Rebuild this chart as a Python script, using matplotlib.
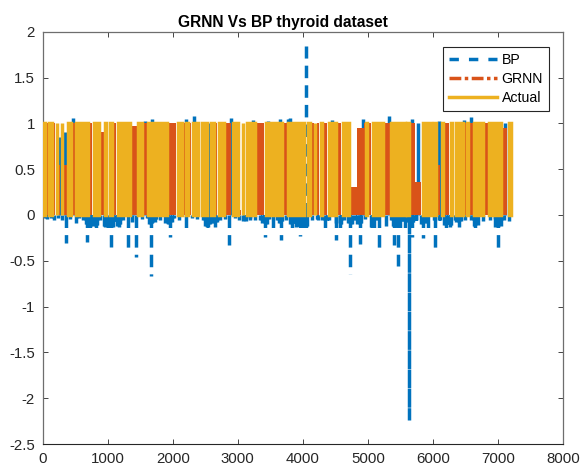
import matplotlib
matplotlib.use("Agg")
import matplotlib.pyplot as plt
from matplotlib.lines import Line2D

plt.rcParams['font.family'] = ['Liberation Sans', 'DejaVu Sans']
plt.rcParams['axes.unicode_minus'] = False

# BP spikes (index, peak value)
bp_x = [15, 60, 120, 180, 240, 300, 352, 420, 505, 560, 620, 684, 750, 816, 880, 950, 1056, 1110, 1168,
        1240, 1316, 1380, 1434, 1520, 1600, 1664, 1740, 1810, 1890, 1950, 2020, 2100, 2206, 2290, 2380,
        2470, 2538, 2600, 2655, 2730, 2800, 2859, 2950, 3020, 3099, 3180, 3260, 3340, 3415, 3480, 3543,
        3600, 3660, 3740, 3838, 3900, 3956, 4042, 4145, 4220, 4339, 4400, 4512, 4573, 4640, 4721, 4800,
        4885, 4960, 5063, 5120, 5165, 5278, 5350, 5405, 5456, 5510, 5564, 5676, 5740,
        5855, 5931, 6033, 6110, 6197, 6263, 6340, 6406, 6500, 6580, 6646, 6774, 6870, 6950, 7003, 7090, 7167,
        4051]
bp_y = [-0.03, -0.04, -0.03, -0.05, -0.03, -0.06, -0.31, -0.04, -0.09, -0.03, -0.05, -0.29, -0.11, -0.19,
        -0.05, -0.12, -0.35, -0.07, -0.13, -0.05, -0.40, -0.08, -0.46, -0.04, -0.03, -0.67, -0.04, -0.05,
        -0.06, -0.24, -0.03, -0.05, -0.17, -0.03, -0.04, -0.05, -0.13, -0.04, -0.13, -0.05, -0.04, -0.33,
        -0.03, -0.05, -0.06, -0.03, -0.05, -0.06, -0.24, -0.04, -0.20, -0.05, -0.27, -0.05, -0.20, -0.07,
        -0.23, -0.21, -0.05, -0.04, -0.14, -0.05, -0.27, -0.19, -0.05, -0.65, -0.06, -0.32, -0.04, -0.20,
        -0.06, -0.38, -0.12, -0.05, -0.33, -0.56, -0.07, -0.21, -0.24, -0.06,
        -0.25, -0.18, -0.39, -0.05, -0.16, -0.13, -0.05, -0.13, -0.05, -0.06, -0.15, -0.07, -0.05, -0.04, -0.39, -0.05, -0.07,
        1.84]

# short BP strokes that crowd just under the baseline
bp_low_x = [660, 690, 720, 780, 840, 960, 1000, 1030, 1075, 1150, 1190, 1630, 1680, 1720, 1880, 1930, 1990, 2495,
            2520, 2570, 2625, 2680, 3080, 3130, 3190, 3365, 3400, 3445, 3640, 3680, 3800, 3855, 3900, 3940, 4000,
            4060, 4230, 4290, 4370, 4510, 4590, 4690, 4760, 4840, 4900, 5045, 5100, 5380, 5440, 5490, 5555, 5600,
            5660, 5700, 5745, 5815, 5900, 6020, 6090, 6170, 6230, 6280, 6350, 6435, 6630, 6690, 6960, 7040]
bp_low_y = [-0.10, -0.14, -0.17, -0.12, -0.11, -0.13, -0.15, -0.09, -0.13, -0.12, -0.10, -0.10, -0.09, -0.08, -0.09,
            -0.10, -0.08, -0.12, -0.13, -0.10, -0.09, -0.08, -0.07, -0.07, -0.06, -0.09, -0.08, -0.10, -0.09, -0.07,
            -0.10, -0.09, -0.13, -0.12, -0.14, -0.12, -0.05, -0.05, -0.06, -0.09, -0.10, -0.09, -0.10, -0.10, -0.09,
            -0.13, -0.14, -0.12, -0.13, -0.14, -0.07, -0.08, -0.07, -0.08, -0.06, -0.10, -0.09, -0.05, -0.06, -0.11,
            -0.10, -0.11, -0.08, -0.07, -0.12, -0.11, -0.13, -0.12]

# BP peaks around the top of the band, and the one deep spike: these read as solid strokes
bp_solid_x = [257, 347, 469, 1388, 1576, 1679, 2204, 2332, 2546, 2806, 2893, 3235, 3464, 3643, 3765, 3805,
              4446, 4856, 4923, 5328, 5677, 5768, 6087, 6472, 6584, 7110]
bp_solid_y = [0.85, 0.90, 1.06, 0.90, 1.02, 1.05, 1.05, 1.08, 1.00, 0.90, 1.06, 1.04, 1.03, 1.05, 1.05, 1.06,
              1.04, 0.90, 1.05, 1.08, 1.05, 1.00, 1.03, 1.04, 1.07, 1.00]
bp_deep_x = [5625]
bp_deep_y = [-2.24]

# GRNN output where it shows between the Actual blocks
grnn_start = [61, 173, 250, 327, 464, 724, 893, 1000, 1092, 1367, 1551, 1944, 2168, 2255, 2408, 2546, 2663,
              2806, 3031, 3102, 3291, 3699, 4041, 4143, 4215, 4328, 4543, 4743, 4830, 4943, 5015, 5266,
              5590, 5641, 5727, 5993, 6070, 6177, 6314, 6483, 6560, 6789, 7070]
grnn_end = [77, 189, 265, 367, 490, 765, 939, 1010, 1133, 1444, 1597, 2051, 2184, 2281, 2423, 2561, 2679,
            2893, 3056, 3112, 3403, 3750, 4051, 4164, 4251, 4374, 4584, 4830, 4943, 5015, 5051, 5334,
            5641, 5727, 5819, 6070, 6110, 6253, 6330, 6503, 6610, 6840, 7146]
grnn_top = [1, 1, 0.55, 0.55, 1, 1, 0.9, 0.13, 1, 0.97, 1, 1, 1, 1, 1, 0.5, 1,
            1, 0.05, 0.6, 1, 1, 1, 1, 1, 1, 1, 0.3, 0.95, 1, 1, 1,
            1, 1, 0.36, 1, 0.55, 1, 1, 1, 1, 1, 0.95]

# Actual class blocks
actual_start = [10, 103, 215, 291, 393, 516, 791, 965, 1036, 1159, 1470, 1623, 2077, 2210, 2307, 2449, 2587,
                2705, 2919, 3077, 3138, 3429, 3776, 4077, 4188, 4277, 4400, 4610, 4969, 5077, 5360, 5604,
                5845, 6019, 6136, 6279, 6356, 6529, 6636, 6866, 7172]
actual_end = [35, 147, 224, 301, 438, 698, 867, 974, 1066, 1341, 1525, 1918, 2142, 2229, 2382, 2520, 2637,
              2780, 3005, 3081, 3265, 3673, 4015, 4117, 4191, 4302, 4517, 4717, 4989, 5240, 5564, 5627,
              5967, 6044, 6151, 6288, 6457, 6534, 6763, 7044, 7200]

x_ticks = [0, 1000, 2000, 3000, 4000, 5000, 6000, 7000, 8000]
y_ticks = [-2.5, -2, -1.5, -1, -0.5, 0, 0.5, 1, 1.5, 2]
y_labels = ['-2.5', '-2', '-1.5', '-1', '-0.5', '0', '0.5', '1', '1.5', '2']

blue = '#0072BD'
orange = '#D95319'
yellow = '#EDB120'
ink = '#262626'
edge = '#6E6E6E'

fig = plt.figure(figsize=(5.82, 4.70), dpi=100)
ax = fig.add_axes([42.7 / 582, 1 - 444 / 470, (563 - 42.7) / 582, (444 - 31.7) / 470])

# each BP value is a dashed stroke out from the baseline, so the dash phase restarts at 0
path_x, path_y = [], []
for x, y in sorted(zip(bp_x + bp_low_x, bp_y + bp_low_y)):
    path_x += [x, x, float('nan')]
    path_y += [0, y, float('nan')]
ax.plot(path_x, path_y, color=blue, lw=2.5, ls=(0, (3.6, 2.05)), zorder=2, dash_capstyle='butt')

solid_x, solid_y = [], []
for x, y in zip(bp_solid_x, bp_solid_y):
    solid_x += [x, x, float('nan')]
    solid_y += [0, y, float('nan')]
ax.plot(solid_x, solid_y, color=blue, lw=2.5, zorder=2, solid_capstyle='butt')

# the deep spike is retraced in the original so only hairline gaps survive
ax.plot(bp_deep_x * 2, [0, bp_deep_y[0]], color=blue, lw=2.5, ls=(0, (5.4, 0.15)), zorder=2, dash_capstyle='butt')

ax.bar(grnn_start, grnn_top, [e - s for s, e in zip(grnn_start, grnn_end)], align='edge',
       color=orange, lw=0, zorder=3)
ax.bar(actual_start, [1] * len(actual_start), [e - s for s, e in zip(actual_start, actual_end)], align='edge',
       color=yellow, edgecolor=yellow, lw=2.5, zorder=4)

ax.set_xlim(0, 8000)
ax.set_ylim(-2.5, 2)
ax.set_xticks(x_ticks)
ax.set_yticks(y_ticks)
ax.set_yticklabels(y_labels)
ax.tick_params(direction='in', top=True, right=True, length=3.8, width=0.6, color=ink,
               labelcolor=ink, labelsize=10.8)
ax.tick_params(axis='y', pad=5.5)
ax.tick_params(axis='x', pad=6)
for name, s in ax.spines.items():
    s.set_linewidth(0.9 if name != 'bottom' else 0.8)
    s.set_color(ink if name == 'bottom' else edge)
ax.set_title('GRNN Vs BP thyroid dataset', fontsize=11.2, fontweight='bold', color='black',
             x=(282.5 - 42.7) / (563 - 42.7), pad=3.5)

handles = [Line2D([], [], color=blue, lw=2.5, ls=(0, (2.7, 2.9))),
           Line2D([], [], color=orange, lw=2.5, ls=(0, (3.4, 1, 1, 1))),
           Line2D([], [], color=yellow, lw=2.5)]
leg = ax.legend(handles, ['BP', 'GRNN', 'Actual'], loc='upper left', bbox_to_anchor=((443.5 - 42.7) / 520.3, 1 - (47 - 31.7) / 412.3),
                fontsize=10.2, fancybox=False, framealpha=1, edgecolor=ink, handlelength=3.4, handletextpad=0.3,
                labelspacing=0.36, borderpad=0.4, borderaxespad=0, labelcolor='black')
leg.get_frame().set_linewidth(0.8)

fig.savefig('out.png', dpi=100)
